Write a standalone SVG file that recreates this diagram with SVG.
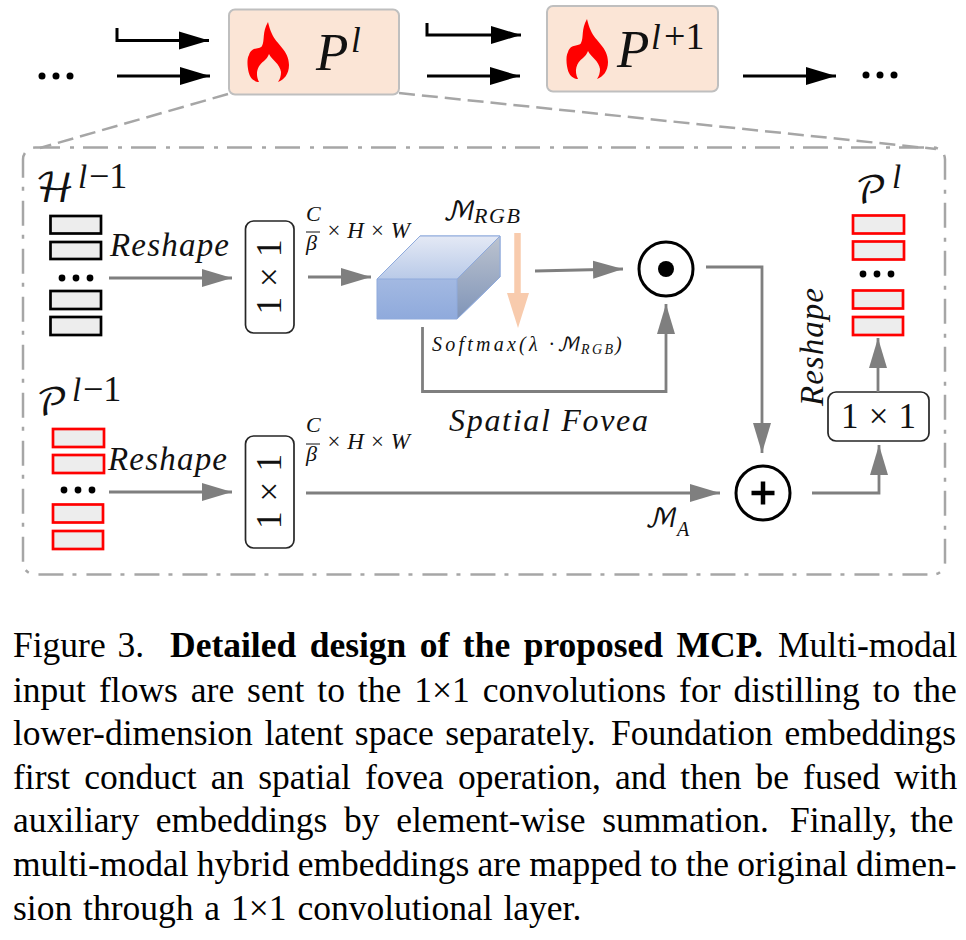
<svg xmlns="http://www.w3.org/2000/svg" xmlns:xlink="http://www.w3.org/1999/xlink" width="966" height="940" viewBox="0 0 966 940">
<style>
.bk{fill:none;stroke:#000;stroke-width:3}
.gy{fill:none;stroke:#7f7f7f;stroke-width:2.8}
.b1{marker-end:url(#hb)}
.g1{marker-end:url(#hg)}
.box{fill:#fbe5d6;stroke:#bfbfbf;stroke-width:2}
.cv{fill:#fff;stroke:#262626;stroke-width:1.7}
.hr{fill:#ededed;stroke:#000;stroke-width:2.7}
.rr{fill:#ededed;stroke:#f00;stroke-width:2.7}
.m{font-family:"Liberation Serif",serif;font-style:italic;fill:#111}
.s{font-family:"DejaVu Math TeX Gyre","DejaVu Serif","DejaVu Sans",serif;font-style:normal;fill:#111}
.n{font-family:"Liberation Serif",serif;fill:#111}
.c{font-family:"Liberation Serif",serif;font-size:35.500px;fill:#000}
.o{fill:none;stroke:#000;stroke-width:3}
</style>
<defs>
<marker id="hb" markerUnits="userSpaceOnUse" markerWidth="31" markerHeight="20" refX="30" refY="10" orient="auto"><path d="M0 1 L30 10 L0 19Z" fill="#000"/></marker>
<marker id="hg" markerUnits="userSpaceOnUse" markerWidth="31" markerHeight="20" refX="30" refY="10" orient="auto"><path d="M0 1 L30 10 L0 19Z" fill="#7f7f7f"/></marker>
<linearGradient id="gt" x1="0" y1="0" x2="0" y2="1"><stop offset="0" stop-color="#e4e9f5"/><stop offset="1" stop-color="#b9cae8"/></linearGradient>
<linearGradient id="gf" x1="0" y1="0" x2="0" y2="1"><stop offset="0" stop-color="#b8c9e8"/><stop offset="1" stop-color="#8faadc"/></linearGradient>
<linearGradient id="gs" x1="0" y1="0" x2="0" y2="1"><stop offset="0" stop-color="#bcc3cf"/><stop offset="1" stop-color="#7f94b8"/></linearGradient>
<path id="flame" d="M268 22C262 32 265 40 262 46C260 50 252 46 249 55C246 60 248 72 250 76C252 80 256 82 259 82C255 74 257 66 264 61C266 59 268 57 269 54C272 60 280 64 281 72C281 76 280 79 278 82C284 80 289 74 289 65C289 50 276 44 272 34C270 30 269 26 268 22Z" fill="#f00"/>
</defs>
<g id="top-dots-left" fill="#000"><circle cx="42" cy="76" r="3.5"/><circle cx="56" cy="76" r="3.5"/><circle cx="70" cy="76" r="3.5"/></g>
<g id="top-dots-right" fill="#000"><circle cx="866" cy="75" r="3.5"/><circle cx="880" cy="75" r="3.5"/><circle cx="894" cy="75" r="3.5"/></g>
<g id="panel"><rect x="23" y="147.5" width="922" height="427" rx="12" fill="none" stroke="#a6a6a6" stroke-width="2.5" stroke-dasharray="25 10 4 9"/></g>
<g id="node-pl"><rect class="box" x="229" y="9.5" width="170" height="85" rx="6"/><use xlink:href="#flame"/>
<text class="m" x="316" y="70" font-size="53">P</text><text class="m" x="351" y="52" font-size="35">l</text></g>
<g id="node-pl1"><rect class="box" x="547" y="6" width="171" height="85.5" rx="6"/><use xlink:href="#flame" transform="translate(319 -3)"/>
<text class="m" x="617" y="67" font-size="53">P</text><text class="m" x="651" y="49" font-size="35">l</text><text class="n" x="664" y="49" font-size="38">+1</text></g>
<g id="node-h">
<text class="s" x="35" y="202" font-size="40">ℋ</text><text class="m" x="78" y="188" font-size="33">l</text><text class="n" x="89" y="188" font-size="36">−1</text>
<rect class="hr" x="50.5" y="216" width="50.500" height="17.500"/><rect class="hr" x="50.5" y="242" width="50.500" height="17"/>
<g fill="#000"><circle cx="62" cy="278" r="3.400"/><circle cx="76" cy="278" r="3.400"/><circle cx="90" cy="278" r="3.400"/></g>
<rect class="hr" x="50.5" y="291" width="50.500" height="18"/><rect class="hr" x="50.5" y="317" width="50.500" height="18"/></g>
<g id="node-p-prev">
<text class="s" x="36" y="415" font-size="38">𝒫</text><text class="m" x="72" y="401" font-size="33">l</text><text class="n" x="83" y="401" font-size="36">−1</text>
<rect class="rr" x="53" y="429" width="51" height="18"/><rect class="rr" x="53" y="455" width="51" height="18"/>
<g fill="#000"><circle cx="64" cy="490" r="3.400"/><circle cx="78" cy="490" r="3.400"/><circle cx="92" cy="490" r="3.400"/></g>
<rect class="rr" x="53" y="504.500" width="50" height="18"/><rect class="rr" x="53" y="531" width="50" height="18"/></g>
<g id="node-p-out">
<text class="s" x="855" y="203" font-size="38">𝒫</text><text class="m" x="892" y="188" font-size="33">l</text>
<rect class="rr" x="853" y="215.500" width="51" height="18"/><rect class="rr" x="853" y="241.500" width="51" height="18"/>
<g fill="#000"><circle cx="863" cy="274" r="3.400"/><circle cx="877" cy="274" r="3.400"/><circle cx="891" cy="274" r="3.400"/></g>
<rect class="rr" x="853" y="290.500" width="50" height="18"/><rect class="rr" x="853" y="317" width="50" height="18"/></g>
<g id="conv-1"><rect class="cv" x="245.500" y="221" width="48.500" height="112" rx="8"/><text class="n" transform="translate(281 314.500) rotate(-90)" font-size="35" textLength="75" lengthAdjust="spacing">1 × 1</text></g>
<g id="conv-2"><rect class="cv" x="245.500" y="436" width="48.500" height="112" rx="8"/><text class="n" transform="translate(281 529) rotate(-90)" font-size="35" textLength="75" lengthAdjust="spacing">1 × 1</text></g>
<g id="conv-3"><rect class="cv" x="828" y="392" width="101" height="49" rx="8"/><text class="n" transform="translate(841 428)" font-size="35" textLength="75" lengthAdjust="spacing">1 × 1</text></g>
<g id="cube" stroke="#8faadc" stroke-width="1">
<path d="M377 279L420 236H500V277L457 319H377Z" fill="url(#gf)"/>
<path d="M377 279L420 236H500L457 279Z" fill="url(#gt)"/><path d="M457 279L500 236V277L457 319Z" fill="url(#gs)"/></g>
<g id="op-dot"><circle class="o" cx="666" cy="269" r="27"/><circle cx="666" cy="269" r="8" fill="#000"/></g>
<g id="op-plus"><circle class="o" cx="763" cy="493" r="27"/><path d="M751.500 493H774.500M763 481.500V504.500" stroke="#000" stroke-width="4.500" fill="none"/></g>
<g id="connectors">
<path class="bk b1" d="M117 28V40.500H209"/>
<path class="bk b1" d="M117 76H210"/>
<path class="bk b1" d="M427 23V35H521"/>
<path class="bk b1" d="M427 76H520"/>
<path class="bk b1" d="M743 76H836"/>
<path d="M228 94L40 148" fill="none" stroke="#a6a6a6" stroke-width="2.500" stroke-dasharray="16 7"/>
<path d="M399 93L936 149" fill="none" stroke="#a6a6a6" stroke-width="2.500" stroke-dasharray="16 7"/>
<path class="gy g1" d="M109 278H232"/>
<path class="gy g1" d="M308 277H371"/>
<path class="gy g1" d="M535 271L623 269"/>
<path class="gy g1" d="M706 267H762V453"/>
<path class="gy g1" d="M422.500 327V391.500H666V304"/>
<path class="gy g1" d="M109 492H232"/>
<path class="gy g1" d="M306 493H720"/>
<path class="gy g1" d="M812 493H879V445"/>
<path class="gy g1" d="M878 392V338"/>
<path d="M517.500 233V296" stroke="#f8cbad" stroke-width="6.500" fill="none"/><path d="M507 293H529L518 328Z" fill="#f8cbad"/>
</g>
<g id="labels">
<text class="m" x="110" y="256" font-size="33" textLength="119">Reshape</text>
<text class="m" x="108" y="470" font-size="33" textLength="119">Reshape</text>
<text class="m" transform="translate(823 406) rotate(-90)" font-size="33" textLength="118">Reshape</text>
<text class="m" x="306" y="221" font-size="22">C</text><path d="M306 232H320" stroke="#111" stroke-width="1"/><text class="m" x="306" y="250" font-size="22">β</text><text class="m" x="326" y="238" font-size="23" textLength="84">× H × W</text>
<text class="m" x="306" y="432" font-size="22">C</text><path d="M306 444H320" stroke="#111" stroke-width="1"/><text class="m" x="306" y="461" font-size="22">β</text><text class="m" x="326" y="449" font-size="23" textLength="84">× H × W</text>
<text class="s" x="443" y="220" font-size="26">ℳ</text><text class="m" x="474" y="223" font-size="22" textLength="46">RGB</text>
<text class="m" x="432" y="351" font-size="20" textLength="122">Softmax(λ ·</text><text class="s" x="557" y="351" font-size="19">ℳ</text><text class="m" x="581" y="354" font-size="14" textLength="32">RGB</text><text class="m" x="615" y="351" font-size="20">)</text>
<text class="m" x="449" y="431" font-size="32" textLength="199">Spatial Fovea</text>
<text class="s" x="645" y="527" font-size="26">ℳ</text><text class="m" x="677" y="536" font-size="20">A</text>
</g>
<g id="caption">
<text class="c" x="13" y="657" word-spacing="3">Figure 3.</text><text class="c" x="170" y="657" font-weight="bold" word-spacing="4.600">Detailed design of the proposed MCP.</text><text class="c" x="778" y="657">Multi-modal</text>
<text class="c" x="13" y="701.500" word-spacing="4.100">input flows are sent to the 1×1 convolutions for distilling to the</text>
<text class="c" x="13" y="745" word-spacing="2.700">lower-dimension latent space separately.</text><text class="c" x="611" y="745" word-spacing="3">Foundation embeddings</text>
<text class="c" x="13" y="788.500" word-spacing="5.200">first conduct an spatial fovea operation, and then be fused with</text>
<text class="c" x="13" y="832" word-spacing="7.800">auxiliary embeddings by element-wise summation.</text><text class="c" x="790" y="832" word-spacing="4.200">Finally, the</text>
<text class="c" x="13" y="876" word-spacing="-0.600">multi-modal hybrid embeddings are mapped to the original dimen-</text>
<text class="c" x="13" y="919.500" word-spacing="2">sion through a 1×1 convolutional layer.</text>
</g>
</svg>
